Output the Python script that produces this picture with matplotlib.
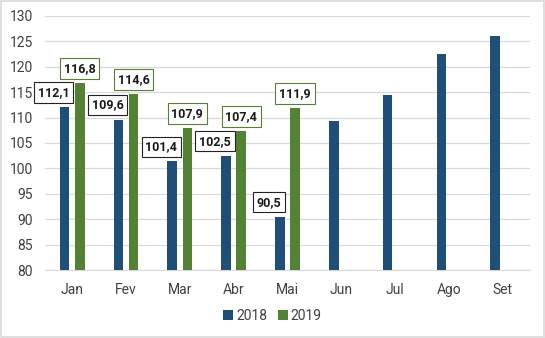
import numpy as np
import matplotlib
matplotlib.use("Agg")
import matplotlib.pyplot as plt
from matplotlib.patches import Rectangle

# chart data
months = ["Jan", "Fev", "Mar", "Abr", "Mai", "Jun", "Jul", "Ago", "Set"]
vals_2018 = [112.1, 109.6, 101.4, 102.5, 90.5, 109.3, 114.4, 122.6, 126.1]
vals_2019 = [116.8, 114.6, 107.9, 107.4, 111.9]
labels_2018 = ["112,1", "109,6", "101,4", "102,5", "90,5"]
labels_2019 = ["116,8", "114,6", "107,9", "107,4", "111,9"]

blue = "#1F4E79"
green = "#548235"

plt.rcParams['font.family'] = ['Roboto', 'DejaVu Sans']

fig = plt.figure(figsize=(5.45, 3.38), dpi=100)
ax = fig.add_axes([0.083, 0.201, 0.889, 0.752])

x = np.arange(len(months))
w = 0.18
off = 0.14
b1 = ax.bar(x - off, vals_2018, w, color=blue, label="2018", zorder=3)
b2 = ax.bar(x[:len(vals_2019)] + off, vals_2019, w, color=green, label="2019", zorder=3)

# data labels (only the months with both years)
for i, txt in enumerate(labels_2018):
    ax.annotate(txt, (x[i] - off, vals_2018[i]), xytext=(-11, 8),
                textcoords="offset pixels", ha="center", va="bottom",
                fontsize=9, fontweight="bold", color="#1a1a1a", zorder=5,
                bbox=dict(boxstyle="square,pad=0.3", fc="white", ec="#222222", lw=0.8))
for i, txt in enumerate(labels_2019):
    ax.annotate(txt, (x[i] + off, vals_2019[i]), xytext=(0, 8),
                textcoords="offset pixels", ha="center", va="bottom",
                fontsize=9, fontweight="bold", color="#1a1a1a", zorder=5,
                bbox=dict(boxstyle="square,pad=0.3", fc="white", ec=green, lw=0.8))

ax.set_ylim(80, 130)
ax.set_xlim(-0.5, len(months) - 0.5)
ax.set_yticks(np.arange(80, 131, 5))
ax.set_xticks(x)
ax.set_xticklabels(months)
ax.tick_params(length=0, labelsize=10, colors="#404040")
ax.tick_params(axis="y", pad=9)
ax.tick_params(axis="x", pad=9)
ax.grid(axis="y", color="#d9d9d9", lw=0.9, zorder=0)
for s in ["top", "right", "left"]:
    ax.spines[s].set_visible(False)
ax.spines["bottom"].set_color("#d9d9d9")

leg = fig.legend(handles=[b1, b2], loc="center", bbox_to_anchor=(0.5, 0.065),
                 ncol=2, frameon=False, fontsize=10, handlelength=0.7,
                 handleheight=0.7, handletextpad=0.2, columnspacing=0.8)
for t in leg.get_texts():
    t.set_color("#404040")

# outer border of the chart
fig.patches.append(Rectangle((0.002, 0.003), 0.996, 0.994, transform=fig.transFigure,
                             fill=False, ec="#d9d9d9", lw=1.2))

fig.savefig("out.png", dpi=100)
